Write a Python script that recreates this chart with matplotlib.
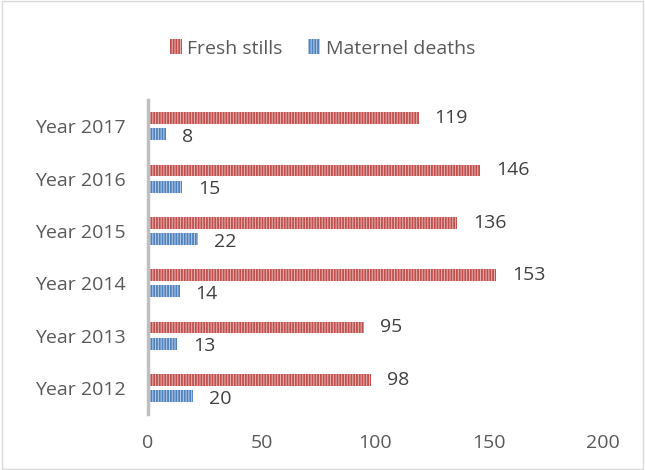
import matplotlib
matplotlib.use("Agg")
import matplotlib.pyplot as plt
import numpy as np

categories = ["Year 2012", "Year 2013", "Year 2014", "Year 2015", "Year 2016", "Year 2017"]
fresh_stills = [98, 95, 153, 136, 146, 119]
maternal_deaths = [20, 13, 14, 22, 15, 8]
series_names = ["Fresh stills", "Maternel deaths"]
xticks = [0, 50, 100, 150, 200]

plt.rcParams['font.family'] = ['Open Sans', 'DejaVu Sans']
plt.rcParams['hatch.linewidth'] = 1.3

fig = plt.figure(figsize=(6.45, 4.7), dpi=100)
ax = fig.add_axes([0.229, 0.119, 0.706, 0.668])

y = np.arange(len(categories))
h = 0.225
off = 0.155
red = "#C0504D"
blue = "#4F81BD"
b1 = ax.barh(y + off, fresh_stills, height=h, color="#E8B8B7", edgecolor=red,
             hatch="||||||", linewidth=0, label=series_names[0])
b2 = ax.barh(y - off, maternal_deaths, height=h, color="#BCD0EA", edgecolor=blue,
             hatch="||||||", linewidth=0, label=series_names[1])

txt = "#404040"
fs = 14
for yi, v in zip(y, fresh_stills):
    ax.text(v + 7, yi + off, str(v), va="center", ha="left", fontsize=fs, color=txt)
for yi, v in zip(y, maternal_deaths):
    ax.text(v + 7, yi - off - 0.05, str(v), va="center", ha="left", fontsize=fs, color=txt)

ax.set_xlim(0, 200)
ax.set_ylim(-0.5, 5.5)
ax.set_xticks(xticks)
ax.set_yticks(y)
ax.set_yticklabels(categories)
ax.tick_params(axis='both', length=0, labelsize=fs, labelcolor="#595959")
ax.tick_params(axis='x', pad=14)
ax.tick_params(axis='y', pad=16)
for s in ["top", "right", "bottom"]:
    ax.spines[s].set_visible(False)
ax.spines["left"].set_color("#BFBFBF")
ax.spines["left"].set_linewidth(2.5)

fig.legend(handles=[b1, b2], labels=series_names, loc="center", bbox_to_anchor=(0.5, 0.897),
           ncol=2, frameon=False, fontsize=fs, labelcolor="#595959",
           handlelength=0.6, handleheight=0.8, handletextpad=0.3, columnspacing=1.3)

border = plt.Rectangle((0.003, 0.003), 0.994, 0.994, transform=fig.transFigure,
                       fill=False, edgecolor="#D9D9D9", linewidth=1)
fig.patches.append(border)

fig.savefig("out.png", dpi=100)
